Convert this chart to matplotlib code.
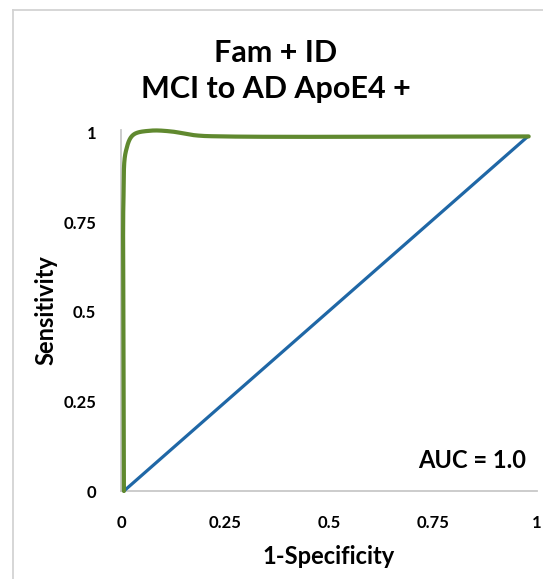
import numpy as np
import matplotlib
matplotlib.use("Agg")
import matplotlib.pyplot as plt
from matplotlib.lines import Line2D

plt.rcParams['font.family'] = ['Lato', 'DejaVu Sans']
plt.rcParams['font.weight'] = 'bold'

title_lines = ["Fam + ID", "MCI to AD ApoE4 +"]
x_label = "1-Specificity"
y_label = "Sensitivity"
auc_text = "AUC = 1.0"
tick_values = [0, 0.25, 0.5, 0.75, 1]
tick_labels = ["0", "0.25", "0.5", "0.75", "1"]

# ROC curve (smoothed line in the original)
roc_fpr = [0.007, 0.006, 0.006, 0.012, 0.03, 0.07, 0.12, 0.18, 0.25, 0.98]
roc_tpr = [0.0, 0.45, 0.82, 0.95, 0.995, 1.006, 1.004, 0.993, 0.99, 0.99]
# reference diagonal
ref_fpr = [0.007, 0.978]
ref_tpr = [0.0, 0.99]


def centripetal_cr(xs, ys, n=80, alpha=0.5):
    p = np.column_stack([xs, ys]).astype(float)
    p = np.vstack([2 * p[0] - p[1], p, 2 * p[-1] - p[-2]])
    out = []
    for i in range(1, len(p) - 2):
        p0, p1, p2, p3 = p[i - 1], p[i], p[i + 1], p[i + 2]
        t0 = 0.0
        t1 = t0 + np.linalg.norm(p1 - p0) ** alpha
        t2 = t1 + np.linalg.norm(p2 - p1) ** alpha
        t3 = t2 + np.linalg.norm(p3 - p2) ** alpha
        t = np.linspace(t1, t2, n)[:, None]
        a1 = (t1 - t) / (t1 - t0) * p0 + (t - t0) / (t1 - t0) * p1
        a2 = (t2 - t) / (t2 - t1) * p1 + (t - t1) / (t2 - t1) * p2
        a3 = (t3 - t) / (t3 - t2) * p2 + (t - t2) / (t3 - t2) * p3
        b1 = (t2 - t) / (t2 - t0) * a1 + (t - t0) / (t2 - t0) * a2
        b2 = (t3 - t) / (t3 - t1) * a2 + (t - t1) / (t3 - t1) * a3
        c = (t2 - t) / (t2 - t1) * b1 + (t - t1) / (t2 - t1) * b2
        out.append(c)
    s = np.vstack(out)
    return s[:, 0], s[:, 1]


fig = plt.figure(figsize=(5.43, 5.79), dpi=100)
ax = fig.add_axes([121 / 543, 88 / 579, 416 / 543, 361 / 579])

ax.plot(ref_fpr, ref_tpr, color='#1f67a6', lw=2.3, solid_capstyle='round', clip_on=False, zorder=3)
sx, sy = centripetal_cr(roc_fpr, roc_tpr)
ax.plot(sx, sy, color='#60892f', lw=3.0, solid_capstyle='round', solid_joinstyle='round',
        clip_on=False, zorder=4)

ax.set_xlim(0, 1)
ax.set_ylim(0, 1.008)
ax.set_xticks(tick_values)
ax.set_xticklabels(tick_labels)
ax.set_yticks(tick_values)
ax.set_yticklabels(tick_labels)
ax.tick_params(axis='both', length=0, labelsize=12)
ax.tick_params(axis='y', pad=18)
ax.tick_params(axis='x', pad=17)
for lab in ax.get_xticklabels() + ax.get_yticklabels():
    lab.set_fontweight('bold')

for side in ['top', 'right']:
    ax.spines[side].set_visible(False)
for side in ['left', 'bottom']:
    ax.spines[side].set_color('#c8c8c8')
    ax.spines[side].set_linewidth(1.3)

ax.set_xlabel(x_label, fontsize=17, fontweight='bold', labelpad=10)
ax.set_ylabel(y_label, fontsize=17, fontweight='bold', labelpad=4)

ax.text(0.975, 0.085, auc_text, transform=ax.transAxes, ha='right', va='center',
        fontsize=17, fontweight='bold')

fig.text(276 / 543, 1 - 62 / 579, title_lines[0], ha='center', va='baseline', fontsize=22, fontweight='bold')
fig.text(276 / 543, 1 - 98 / 579, title_lines[1], ha='center', va='baseline', fontsize=22, fontweight='bold')

# outer chart-area border (light gray)
fig.add_artist(Line2D([12.5 / 543, 12.5 / 543], [0, 1 - 10 / 579], color='#d3d3d3', lw=1.3,
                      transform=fig.transFigure))
fig.add_artist(Line2D([12.5 / 543, 1], [1 - 10 / 579, 1 - 10 / 579], color='#d3d3d3', lw=1.3,
                      transform=fig.transFigure))

fig.savefig("out.png", dpi=100)
